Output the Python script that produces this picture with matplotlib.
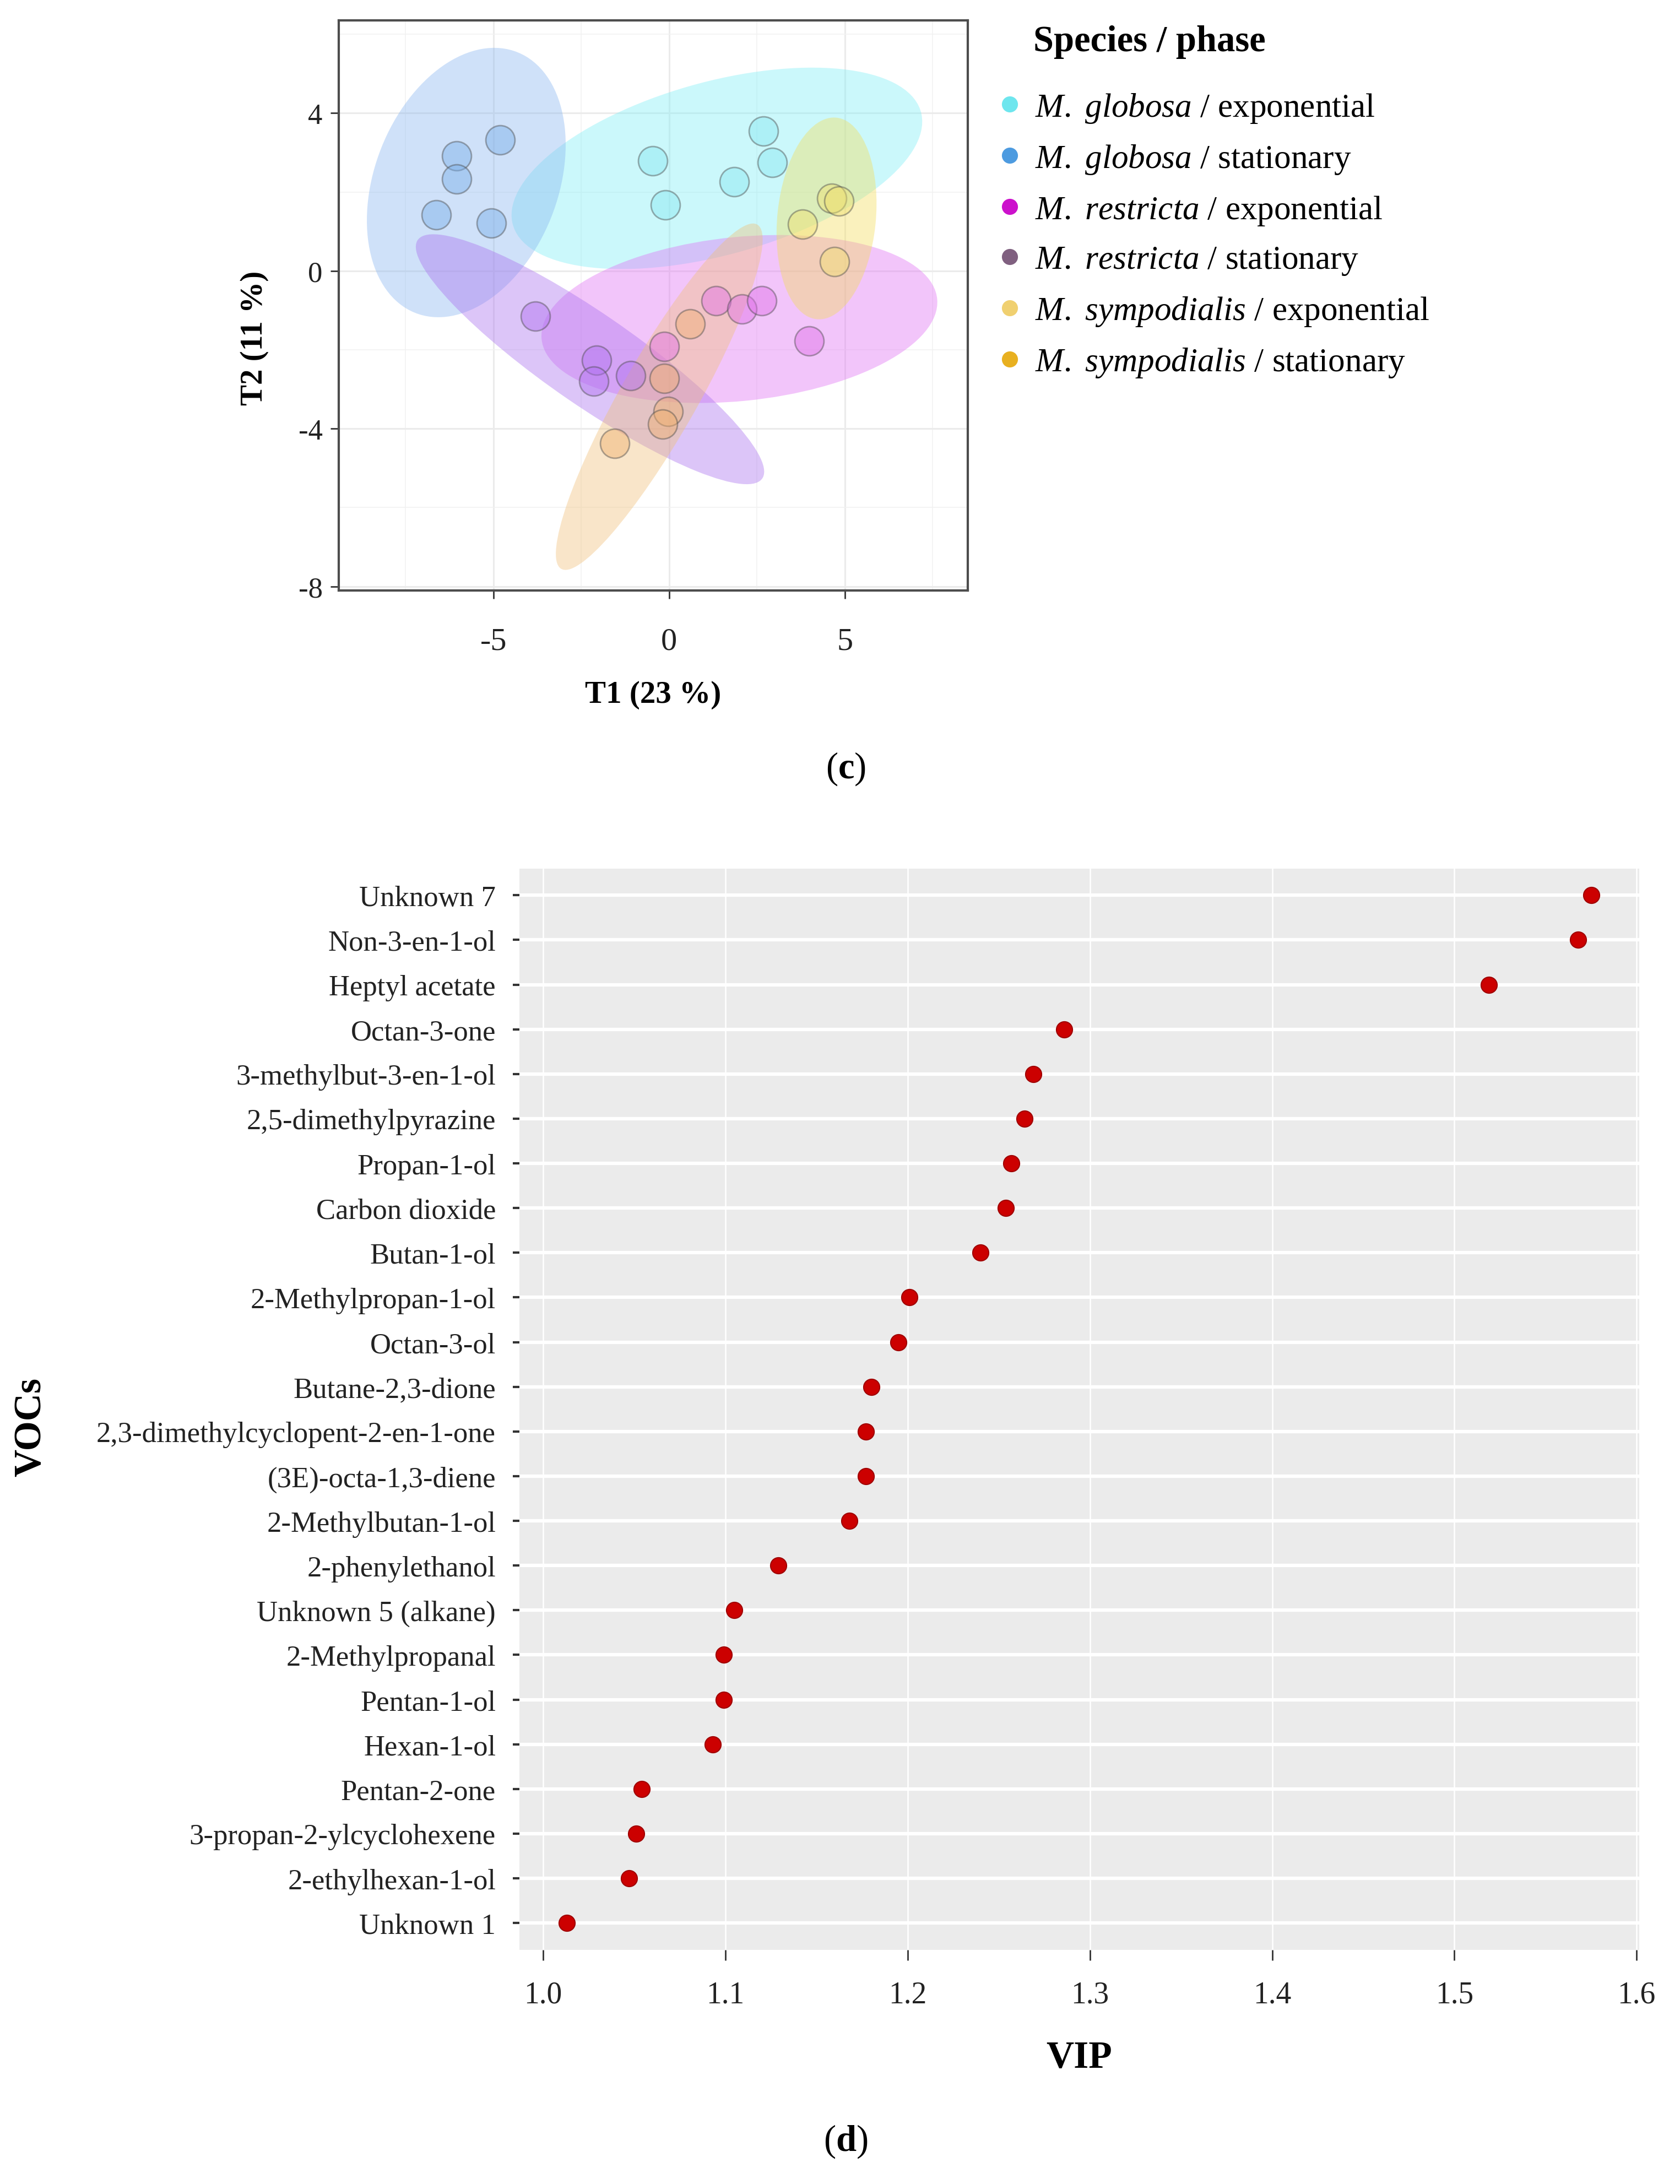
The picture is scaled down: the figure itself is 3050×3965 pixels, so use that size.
import numpy as np
import matplotlib
matplotlib.use("Agg")
import matplotlib.pyplot as plt
from matplotlib.patches import Ellipse
from matplotlib.lines import Line2D

plt.rcParams['font.family'] = ['Liberation Serif', 'DejaVu Serif']
plt.rcParams['mathtext.fontset'] = 'custom'
plt.rcParams['mathtext.rm'] = 'Liberation Serif'
plt.rcParams['mathtext.it'] = 'Liberation Serif:italic'
plt.rcParams['mathtext.bf'] = 'Liberation Serif:bold'
plt.rcParams['axes.unicode_minus'] = False

# ---- panel (c): PLS-DA scores ----
species = ['globosa', 'globosa', 'restricta', 'restricta', 'sympodialis', 'sympodialis']
phases = ['exponential', 'stationary', 'exponential', 'stationary', 'exponential', 'stationary']

t1_scores = [
    [-0.46, -0.11, 1.86, 2.69, 2.94],
    [-6.04, -6.04, -4.80, -6.62, -5.06],
    [1.33, 2.07, 2.63, 3.99, -0.13],
    [-3.80, -2.07, -2.14, -1.10],
    [3.80, 4.62, 4.83, 4.70],
    [0.60, -0.03, -0.18, -1.54, -0.13],
]
t2_scores = [
    [2.79, 1.67, 2.26, 3.54, 2.75],
    [2.92, 2.33, 3.32, 1.42, 1.21],
    [-0.76, -0.97, -0.76, -1.78, -1.92],
    [-1.15, -2.27, -2.79, -2.65],
    [1.18, 1.84, 1.77, 0.24],
    [-1.34, -3.57, -3.88, -4.38, -2.72],
]

# confidence ellipses: centre, semi-axes, angle (deg)
ell_center = [(1.36, 2.60), (-5.77, 2.24), (2.00, -1.22), (-2.25, -2.24), (4.48, 1.33), (-0.28, -3.19)]
ell_a = [5.98, 3.62, 5.65, 5.76, 2.57, 5.18]
ell_b = [2.21, 2.56, 2.08, 1.19, 1.40, 1.05]
ell_angle = [13.3, 62.0, 5.0, -31.4, 83.3, 57.2]

legend_colors = ['#6ee6ee', '#4d9be0', '#cc11cc', '#806080', '#f0d070', '#e8b020']
point_colors = ['#8ae8f2', '#7aaee8', '#e070e8', '#b070f0', '#f0e070', '#f0b070']
ellipse_colors = ['#7eeef6', '#88b6f0', '#e070f4', '#a870ee', '#f4de5a', '#f0c078']

# ---- panel (d): VIP scores ----
vocs = ['Unknown 7', 'Non-3-en-1-ol', 'Heptyl acetate', 'Octan-3-one',
        '3-methylbut-3-en-1-ol', '2,5-dimethylpyrazine', 'Propan-1-ol',
        'Carbon dioxide', 'Butan-1-ol', '2-Methylpropan-1-ol', 'Octan-3-ol',
        'Butane-2,3-dione', '2,3-dimethylcyclopent-2-en-1-one',
        '(3E)-octa-1,3-diene', '2-Methylbutan-1-ol', '2-phenylethanol',
        'Unknown 5 (alkane)', '2-Methylpropanal', 'Pentan-1-ol', 'Hexan-1-ol',
        'Pentan-2-one', '3-propan-2-ylcyclohexene', '2-ethylhexan-1-ol', 'Unknown 1']
vip = [1.575, 1.568, 1.519, 1.286, 1.269, 1.264, 1.257, 1.254, 1.240, 1.201,
       1.195, 1.180, 1.177, 1.177, 1.168, 1.129, 1.105, 1.099, 1.099, 1.093,
       1.054, 1.051, 1.047, 1.013]
vip_ticks = [1.0, 1.1, 1.2, 1.3, 1.4, 1.5, 1.6]

fig = plt.figure(figsize=(30.5, 39.66), dpi=100)

# ---------------- top plot ----------------
ax1 = fig.add_axes([0.2016, 0.7295, 0.3745, 0.2609])
ax1.set_facecolor('white')
for i in range(len(species)):
    e = Ellipse(ell_center[i], 2 * ell_a[i], 2 * ell_b[i], angle=ell_angle[i],
                facecolor=ellipse_colors[i], edgecolor='none', alpha=0.4, zorder=2)
    ax1.add_patch(e)
for i in range(len(species)):
    ax1.scatter(t1_scores[i], t2_scores[i], s=1450, color=point_colors[i],
                alpha=0.45, edgecolors=(0.3, 0.3, 0.3, 0.6), linewidths=2, zorder=3)

ax1.set_xlim(-9.4, 8.5)
ax1.set_ylim(-8.1, 6.35)
ax1.set_xticks([-5, 0, 5])
ax1.set_xticks([-7.5, -2.5, 2.5, 7.5], minor=True)
ax1.set_yticks([-8, -4, 0, 4])
ax1.set_yticks([-6, -2, 2, 6], minor=True)
ax1.grid(True, which='major', color='#ebebeb', lw=2.2, zorder=0)
ax1.grid(True, which='minor', color='#f2f2f2', lw=1.2, zorder=0)
ax1.set_axisbelow(True)
for sp in ax1.spines.values():
    sp.set_color('#4d4d4d')
    sp.set_linewidth(3)
ax1.tick_params(which='major', length=11, width=2, color='#333333', labelcolor='#222222')
ax1.tick_params(which='minor', length=0)
ax1.tick_params(axis='y', labelsize=38, pad=10)
ax1.tick_params(axis='x', labelsize=42, pad=37)
ax1.set_xlabel('T1 (23 %)', fontsize=41, fontweight='bold')
ax1.xaxis.set_label_coords(0.5, -0.183)
ax1.xaxis.label.set_va('center')
ax1.set_ylabel('T2 (11 %)', fontsize=41, fontweight='bold')
ax1.yaxis.set_label_coords(-0.134, 0.4435)
ax1.yaxis.label.set_va('center')

# legend
labels = [r'$\mathit{M.\ %s}$ / %s' % (s, p) for s, p in zip(species, phases)]
handles = [Line2D([], [], marker='o', ls='', markersize=20, color=c, mec=c)
           for c in legend_colors]
fig.text(0.615, 0.9808, 'Species / phase', fontsize=48, fontweight='bold',
         va='center', ha='left')
fig.legend(handles, labels, loc='upper left', bbox_to_anchor=(0.593, 0.958),
           frameon=False, fontsize=44, borderpad=0, handlelength=0.8,
           handletextpad=0.35, labelspacing=0.54, borderaxespad=0)

fig.text(0.5035, 0.648, r'($\mathbf{c}$)', fontsize=48, ha='center', va='center')

# ---------------- bottom plot ----------------
ax2 = fig.add_axes([0.3092, 0.1072, 0.6666, 0.4950])
ax2.set_facecolor('#ebebeb')
ypos = np.arange(len(vocs))[::-1]
ax2.scatter(vip, ypos, s=440, color='#cc0000', edgecolors='#a00000',
            linewidths=1.5, zorder=3)
ax2.set_xlim(0.987, 1.6015)
ax2.set_ylim(-0.6, len(vocs) - 0.4)
ax2.set_yticks(ypos)
ax2.set_yticklabels(vocs)
ax2.set_xticks(vip_ticks)
ax2.set_xticklabels(['%.1f' % v for v in vip_ticks])
for sp in ax2.spines.values():
    sp.set_visible(False)
ax2.xaxis.grid(True, color='white', lw=1.8, zorder=0)
ax2.yaxis.grid(True, color='white', lw=4.5, zorder=0)
ax2.set_axisbelow(True)
ax2.tick_params(axis='y', length=9, width=3, color='#333333', labelsize=38,
                labelcolor='#222222', pad=22)
ax2.tick_params(axis='x', length=14, width=2, color='#333333', labelsize=40,
                labelcolor='#222222', pad=26)
ax2.set_xlabel('VIP', fontsize=50, fontweight='bold')
ax2.xaxis.set_label_coords(0.5, -0.1)
ax2.xaxis.label.set_va('center')
ax2.set_ylabel('VOCs', fontsize=50, fontweight='bold')
ax2.yaxis.set_label_coords(-0.436, 0.484)
ax2.yaxis.label.set_va('center')

fig.text(0.5035, 0.0197, r'($\mathbf{d}$)', fontsize=48, ha='center', va='center')

fig.savefig('out.png', dpi=100, facecolor='white')
